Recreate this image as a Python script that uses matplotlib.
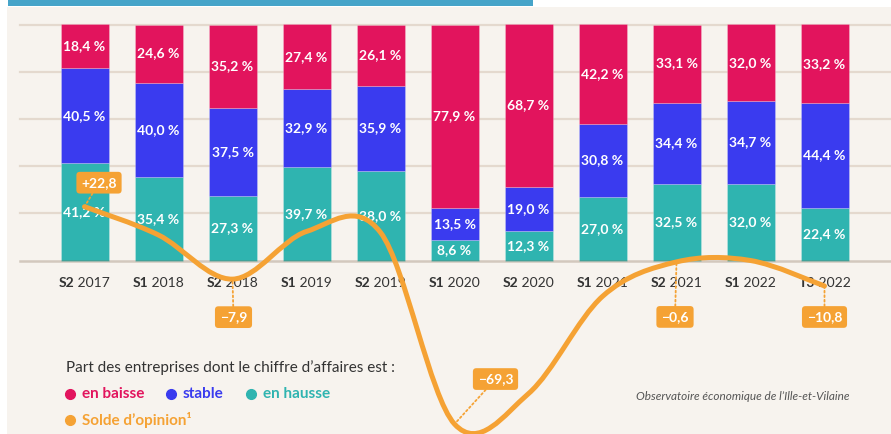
import matplotlib
matplotlib.use("Agg")
import matplotlib.pyplot as plt
from matplotlib.path import Path
from matplotlib.patches import PathPatch, Rectangle
import numpy as np

# ---------------- data ----------------
periods = ["S2", "S1", "S2", "S1", "S2", "S1", "S2", "S1", "S2", "S1", "T3"]
years = ["2017", "2018", "2018", "2019", "2019", "2020", "2020", "2021", "2021", "2022", "2022"]
en_hausse = [41.2, 35.4, 27.3, 39.7, 38.0, 8.6, 12.3, 27.0, 32.5, 32.0, 22.4]
stable = [40.5, 40.0, 37.5, 32.9, 35.9, 13.5, 19.0, 30.8, 34.4, 34.7, 44.4]
en_baisse = [18.4, 24.6, 35.2, 27.4, 26.1, 77.9, 68.7, 42.2, 33.1, 32.0, 33.2]
solde = [22.8, 10.8, -7.9, 12.3, 11.9, -69.3, -56.4, -15.2, -0.6, 0.0, -10.8]
solde_labels = {0: "+22,8", 2: "\u22127,9", 5: "\u221269,3", 8: "\u22120,6", 10: "\u221210,8"}

# ---------------- style ----------------
C_BAISSE = "#e2145d"
C_STABLE = "#3a3bef"
C_HAUSSE = "#2fb4b0"
C_ORANGE = "#f5a234"
C_BG = "#f7f3ee"
C_GRID = "#e4d9ce"
C_TEXT = "#333333"
FONT = "Lato"

W, H, DPI = 891, 434, 100
fig = plt.figure(figsize=(W / DPI, H / DPI), dpi=DPI)
fig.patch.set_facecolor("white")

def px(x, y):
    """pixel (from top-left) -> inches for dpi_scale_trans"""
    return x / DPI, (H - y) / DPI

T = fig.dpi_scale_trans
# background panel and top banner
fig.patches.append(Rectangle(px(7, H), (W - 7) / DPI, (H - 7) / DPI, transform=T,
                             facecolor=C_BG, edgecolor="none", zorder=-10))
fig.patches.append(Rectangle(px(8, 5.5), (533 - 8) / DPI, 5.5 / DPI, transform=T,
                             facecolor="#46a4c9", edgecolor="none", zorder=-9))

# main axes covering the whole figure; mapping chosen to match layout
ax = fig.add_axes([0, 0, 1, 1])
ax.set_facecolor("none")
ax.axis("off")
x0_px, dx_px = 84.5, 74.0
y0_px, dy_px = 260.5, 2.36
ax.set_xlim(-x0_px / dx_px, (W - x0_px) / dx_px)
ax.set_ylim((y0_px - H) / dy_px, y0_px / dy_px)

n = len(periods)
x = np.arange(n)

# gridlines
for g in [20, 40, 60, 80, 100]:
    ax.axhline(g, xmin=20 / W, xmax=1, color=C_GRID, lw=1.6, zorder=0)
ax.axhline(0, xmin=20 / W, xmax=1, color=(0.5, 0.4, 0.3, 0.3), lw=1.8, zorder=3)

# stacked bars (shares rescaled so each bar fills 100 %)
bw = 48 / dx_px
h = np.array(en_hausse); s = np.array(stable); b = np.array(en_baisse)
tot = (h + s + b) / 100.0
hn, sn, bn = h / tot, s / tot, b / tot
ek = dict(edgecolor=(1, 1, 1, 0.25), linewidth=0.6, zorder=2)
ax.bar(x, hn, bw, color=C_HAUSSE, **ek)
ax.bar(x, sn, bw, bottom=hn, color=C_STABLE, **ek)
ax.bar(x, bn, bw, bottom=hn + sn, color=C_BAISSE, **ek)

def fmt(v):
    return f"{v:.1f}".replace(".", ",") + " %"

lab = dict(ha="center", va="center", color="white", fontsize=10,
           fontweight="bold", family=FONT, zorder=4)
for i in range(n):
    ax.text(x[i], hn[i] / 2, fmt(h[i]), **lab)
    ax.text(x[i], hn[i] + sn[i] / 2, fmt(s[i]), **lab)
    ax.text(x[i], hn[i] + sn[i] + bn[i] / 2, fmt(b[i]), **lab)

# smooth opinion balance curve (Catmull-Rom through the points)
P = np.column_stack([x, solde]).astype(float)
verts = [P[0]]
codes = [Path.MOVETO]
for k in range(n - 1):
    p0 = P[k - 1] if k > 0 else P[k]
    p1, p2 = P[k], P[k + 1]
    p3 = P[k + 2] if k + 2 < n else P[k + 1]
    verts += [p1 + (p2 - p0) / 6, p2 - (p3 - p1) / 6, p2]
    codes += [Path.CURVE4] * 3
ax.add_patch(PathPatch(Path(verts, codes), fill=False, edgecolor=C_ORANGE,
                       lw=3.6, capstyle="round", joinstyle="round", zorder=5))

# value boxes (offsets in pixels from the point)
box_off = {0: (14.5, 24), 2: (1, -38), 5: (41, 45), 8: (-1.5, -55), 10: (0, -31)}
for i, txt in solde_labels.items():
    dxo, dyo = box_off[i]
    ax.annotate(txt, xy=(x[i], solde[i]), xytext=(dxo, dyo), textcoords="offset pixels",
                ha="center", va="center", color="white", fontsize=10, fontweight="bold",
                family=FONT, zorder=7,
                bbox=dict(boxstyle="round,pad=0.35,rounding_size=0.25",
                          facecolor=C_ORANGE, edgecolor="none"),
                arrowprops=dict(arrowstyle="-", linestyle=(0, (1, 1.5)), color=C_ORANGE,
                                lw=1.3, shrinkA=0, shrinkB=0))

# category labels: bold period + regular year
tick_y = (y0_px - 283) / dy_px
pairs = []
for i in range(n):
    t1 = ax.text(x[i], tick_y, periods[i], ha="left", va="center", fontsize=10,
                 fontweight="bold", family=FONT, color=C_TEXT, zorder=4)
    t2 = ax.annotate(" " + years[i], xy=(1, 0), xycoords=t1, ha="left", va="bottom",
                     fontsize=10, family=FONT, color=C_TEXT, zorder=4)
    pairs.append((t1, t2))
fig.canvas.draw()
r = fig.canvas.get_renderer()
for i, (t1, t2) in enumerate(pairs):
    w = t1.get_window_extent(r).width + t2.get_window_extent(r).width
    t1.set_x(x[i] - (w / 2) / dx_px)

# legend
fig.text(*px(66, 368), "Part des entreprises dont le chiffre d\u2019affaires est :",
         transform=T, ha="left", va="center", fontsize=11, family=FONT, color=C_TEXT)
items = [(70, 394, C_BAISSE, "en baisse"), (171, 394, C_STABLE, "stable"),
         (251, 394, C_HAUSSE, "en hausse"), (70, 420, C_ORANGE, "Solde d\u2019opinion\u00b9")]
for xp, yp, c, t in items:
    fig.lines.append(plt.Line2D([xp / DPI], [(H - yp) / DPI], transform=T, marker="o",
                                markersize=7, color=c, linestyle="none"))
    fig.text(*px(xp + 12, yp), t, transform=T, ha="left", va="center", fontsize=11,
             fontweight="bold", family=FONT, color=c)

fig.text(*px(850, 396), "Observatoire \u00e9conomique de l\u2019Ille-et-Vilaine",
         transform=T, ha="right", va="center", fontsize=8.5, style="italic",
         family=FONT, color="#555555")

fig.savefig("out.png", dpi=DPI, facecolor=fig.get_facecolor())
